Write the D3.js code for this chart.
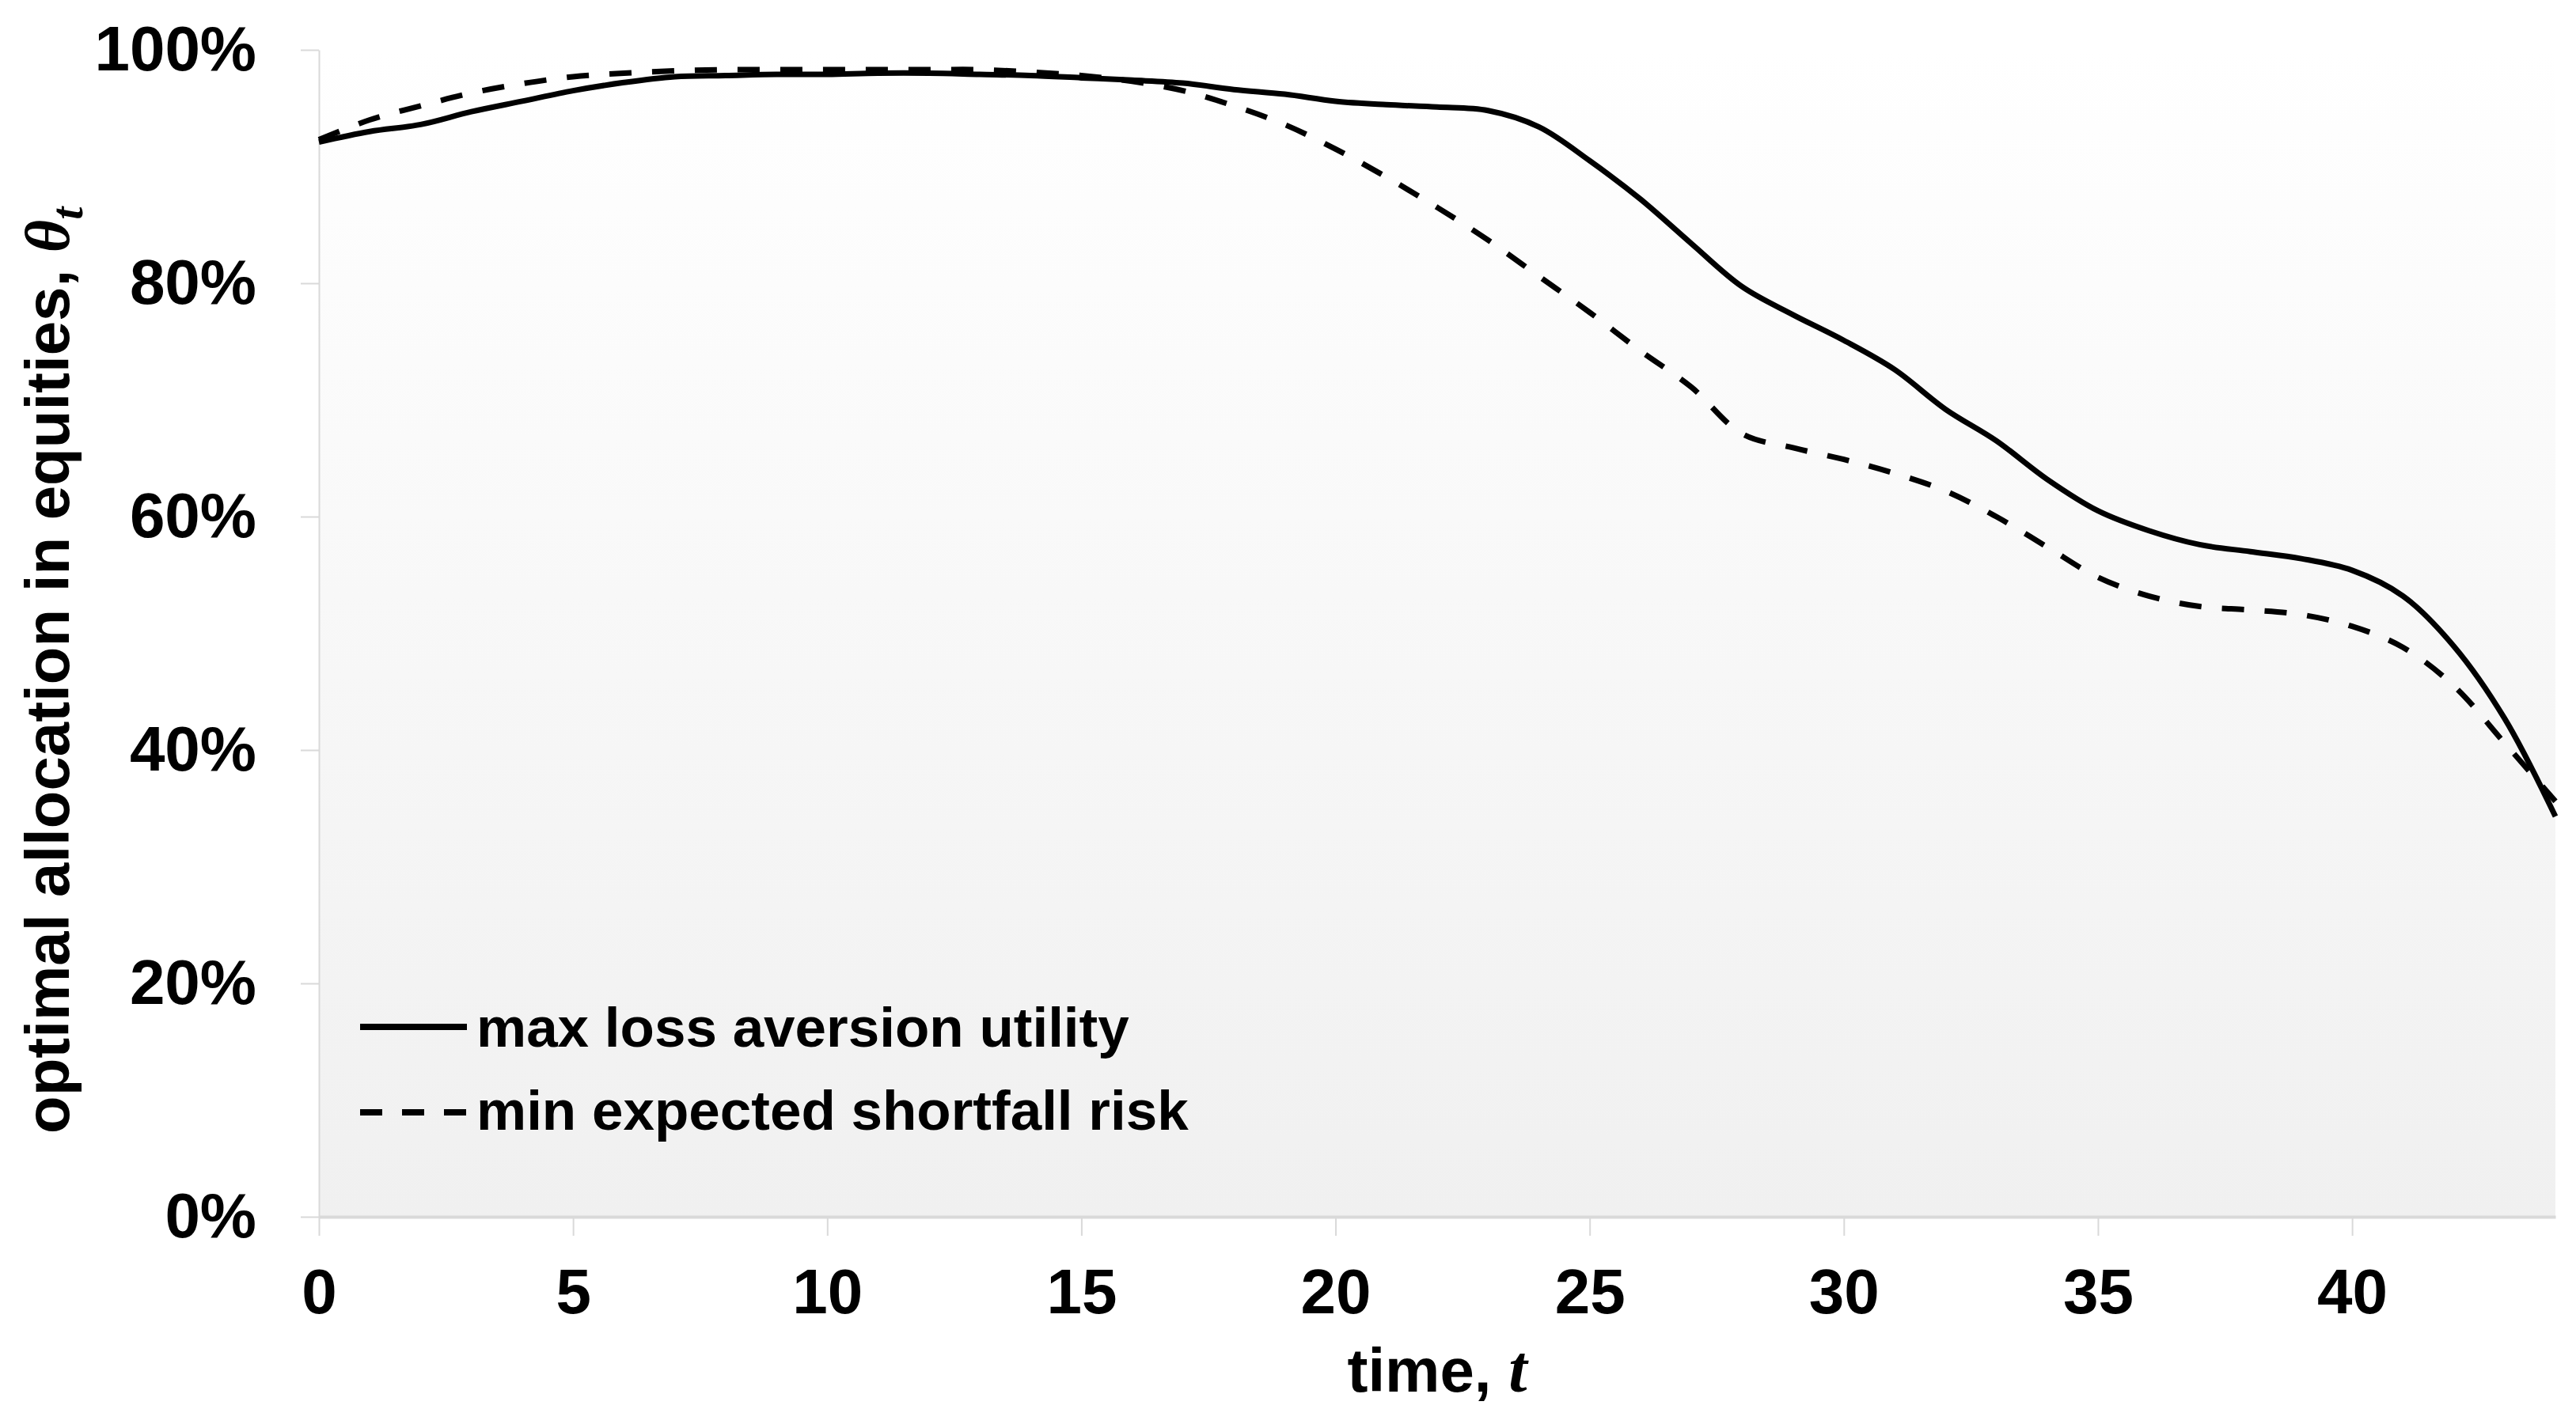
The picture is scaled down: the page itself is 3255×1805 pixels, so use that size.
<!DOCTYPE html>
<html>
<head>
<meta charset="utf-8">
<script src="https://cdn.jsdelivr.net/npm/d3@7"></script>
<style>
  body { margin: 0; background: #fff; }
  text { font-family: "Liberation Sans", Arial, sans-serif; font-weight: bold; fill: #000; }
  .math { font-family: "Liberation Serif", "Times New Roman", serif; font-style: italic; font-weight: bold; }
</style>
</head>
<body>
<script>
// chart values
var times = [0,1,2,3,4,5,6,7,8,9,10,11,12,13,14,15,16,17,18,19,20,21,22,
             23,24,25,26,27,28,29,30,31,32,33,34,35,36,37,38,39,40,41,42,43,44];

// max loss aversion utility (solid)
var lossAversion = [92.1,93.0,93.6,94.7,95.6,96.5,97.2,97.7,97.8,97.9,97.9,98.0,98.0,97.9,97.8,
                    97.6,97.4,97.15,96.6,96.2,95.6,95.3,95.1,94.8,93.4,90.5,87.2,83.4,79.7,77.3,
                    75.1,72.6,69.2,66.5,63.2,60.5,58.8,57.6,57.0,56.4,55.4,53.2,48.9,42.7,34.3];

// min expected shortfall risk (dashed)
var shortfall = [92.3,94.0,95.2,96.3,97.1,97.7,98.0,98.2,98.3,98.3,98.3,98.3,98.3,98.3,98.1,
                 97.8,97.3,96.5,95.2,93.6,91.5,89.1,86.5,83.7,80.6,77.5,74.2,71.1,67.1,65.9,
                 64.9,63.7,62.2,60.0,57.4,54.8,53.2,52.3,52.0,51.6,50.6,48.8,45.5,40.6,35.6];

var seriesNames = ["max loss aversion utility", "min expected shortfall risk"];
var yTicks = [0, 0.2, 0.4, 0.6, 0.8, 1.0];
var xTicks = [0, 5, 10, 15, 20, 25, 30, 35, 40];

// Chart Params
var svgWidth = 3255;
var svgHeight = 1805;
var margin = { top: 63, right: 26, bottom: 267, left: 403 };
var width = svgWidth - margin.left - margin.right;
var height = svgHeight - margin.top - margin.bottom;

var svg = d3.select("body").append("svg")
  .attr("width", svgWidth)
  .attr("height", svgHeight);

// soft grey fade behind the plot
var grad = svg.append("defs").append("linearGradient")
  .attr("id", "bg").attr("x1", 0).attr("y1", 0).attr("x2", 0).attr("y2", 1);
grad.append("stop").attr("offset", "0%").attr("stop-color", "#ffffff");
grad.append("stop").attr("offset", "100%").attr("stop-color", "#f0f0f0");

var chartGroup = svg.append("g")
  .attr("transform", `translate(${margin.left}, ${margin.top})`);

chartGroup.append("rect")
  .attr("width", width)
  .attr("height", height)
  .attr("fill", "url(#bg)");

var xScale = d3.scaleLinear().domain([0, 44]).range([0, width]);
var yScale = d3.scaleLinear().domain([0, 1]).range([height, 0]);

// axes
var yAxis = d3.axisLeft(yScale)
  .tickValues(yTicks)
  .tickFormat(d3.format(".0%"))
  .tickSize(23)
  .tickSizeOuter(0)
  .tickPadding(56);

var xAxis = d3.axisBottom(xScale)
  .tickValues(xTicks)
  .tickFormat(d3.format("d"))
  .tickSize(24)
  .tickSizeOuter(0)
  .tickPadding(41);

var gy = chartGroup.append("g").call(yAxis);
gy.select(".domain").attr("stroke", "#d9d9d9").attr("stroke-width", 2);
gy.selectAll(".tick line").attr("stroke", "#d9d9d9").attr("stroke-width", 2);
gy.selectAll(".tick text").attr("font-size", 80);

var gx = chartGroup.append("g")
  .attr("transform", `translate(0, ${height})`)
  .call(xAxis);
gx.select(".domain").attr("stroke", "#d9d9d9").attr("stroke-width", 4);
gx.selectAll(".tick line").attr("stroke", "#d9d9d9").attr("stroke-width", 2);
gx.selectAll(".tick text").attr("font-size", 80);

// lines
var lineFor = function(values) {
  return d3.line()
    .x((d, i) => xScale(times[i]))
    .y(d => yScale(d / 100))
    .curve(d3.curveCatmullRom.alpha(0.5))(values);
};

chartGroup.append("path")
  .attr("d", lineFor(shortfall))
  .attr("fill", "none")
  .attr("stroke", "#000")
  .attr("stroke-width", 7)
  .attr("stroke-dasharray", "28,26");

chartGroup.append("path")
  .attr("d", lineFor(lossAversion))
  .attr("fill", "none")
  .attr("stroke", "#000")
  .attr("stroke-width", 7);

// legend
var legend = svg.append("g").attr("transform", "translate(455, 1298)");
legend.append("line")
  .attr("x1", 0).attr("x2", 135).attr("y1", 0).attr("y2", 0)
  .attr("stroke", "#000").attr("stroke-width", 8);
legend.append("text")
  .attr("x", 147).attr("y", 25)
  .attr("font-size", 71)
  .text(seriesNames[0]);
legend.append("line")
  .attr("x1", 0).attr("x2", 135).attr("y1", 108).attr("y2", 108)
  .attr("stroke", "#000").attr("stroke-width", 8)
  .attr("stroke-dasharray", "28,25");
legend.append("text")
  .attr("x", 147).attr("y", 130)
  .attr("font-size", 71)
  .text(seriesNames[1]);

// x axis label
var xLabel = svg.append("text")
  .attr("x", margin.left + width / 2)
  .attr("y", 1759)
  .attr("text-anchor", "middle")
  .attr("font-size", 78);
xLabel.append("tspan").text("time, ");
xLabel.append("tspan").attr("class", "math").attr("font-size", 84).text("t");

// y axis label
var yLabel = svg.append("text")
  .attr("transform", "translate(87, 1433) rotate(-90)")
  .attr("font-size", 78);
yLabel.append("tspan").text("optimal allocation in equities, ");
yLabel.append("tspan").attr("class", "math").attr("font-size", 80).text("θ");
yLabel.append("tspan").attr("class", "math").attr("font-size", 58).attr("dy", "0.3em").text("t");
</script>
</body>
</html>
